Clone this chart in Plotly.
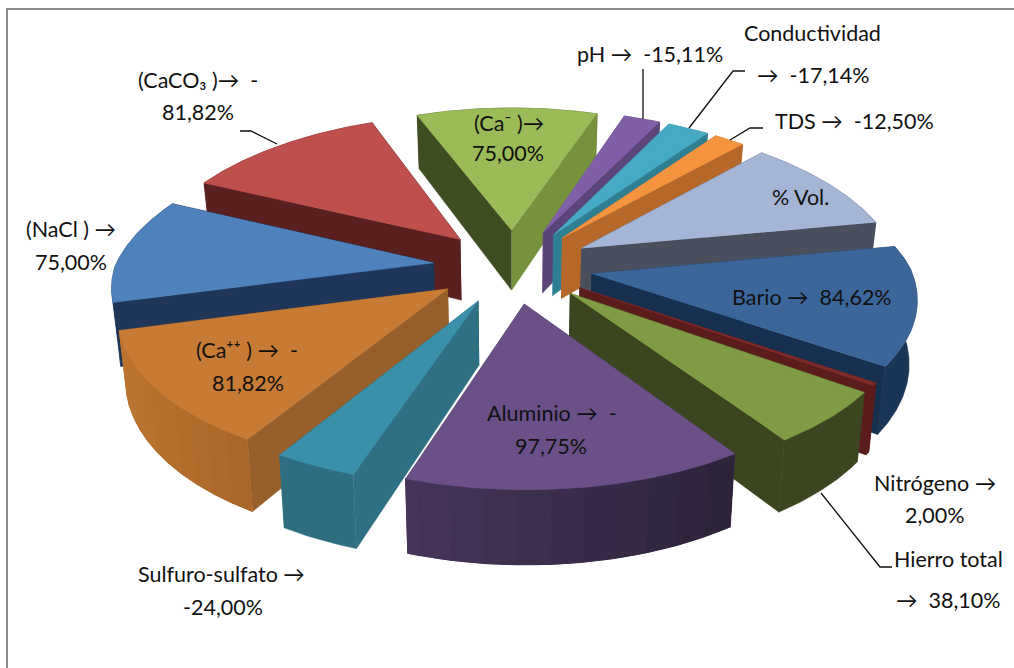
import numpy as np
import plotly.graph_objects as go

# ---- data (absolute % change; % Vol. has no printed figure, estimated) ----
NAMES = ["pH", "Conductividad", "TDS", "% Vol.", "Bario", "Nitrógeno", "Hierro total",
         "Aluminio", "Sulfuro-sulfato", "(Ca++)", "(NaCl)", "(CaCO3)", "(Ca-)"]
VALUES = [15.11, 17.14, 12.50, 68.0, 84.62, 2.00, 38.10, 97.75, 24.00, 81.82, 75.00, 81.82, 75.00]

LABEL_LINES = [["pH →  -15,11%"], ["Conductividad", "→  -17,14%"], ["TDS →  -12,50%"], ["% Vol."],
               ["Bario →  84,62%"], ["Nitrógeno →", "2,00%"], ["Hierro total", "→  38,10%"],
               ["Aluminio →  -", "97,75%"], ["Sulfuro-sulfato →", "-24,00%"], ["(Ca⁺⁺ ) →  -", "81,82%"],
               ["(NaCl ) →", "75,00%"], ["(CaCO₃ )→  -", "81,82%"], ["(Ca⁻ )→", "75,00%"]]

# ---- layout / style ----
LABEL_POS = [[(650, 54)], [(812, 33), (813, 75)], [(854, 121)], [(800, 197)],
             [(812, 297)], [(935, 483), (935, 515)], [(948, 559), (948, 600)],
             [(552, 413), (551, 446)], [(221, 574), (223, 607)], [(247, 350), (248, 383)],
             [(71, 229), (71, 262)], [(198, 80), (198, 112)], [(509, 123), (508, 153)]]

TOP = ["#7F5FA5", "#46AAC4", "#F5943F", "#A4B5D6", "#3C6699", "#7E2A28", "#7F9C45",
       "#6A5087", "#3A8FA9", "#C87B35", "#4F81BD", "#BF4F4D", "#9BBB59"]
WALL_START = ["#6F5592", "#2F7F93", "#B5682A", "#4A4F5E", "#17304F", "#5A1D1C", "#3B451F",
              "#46355A", "#2F7083", "#97602A", "#1F3659", "#5A1F1F", "#3F4E22"]
WALL_END = ["#5B4478", "#2F7F93", "#B5682A", "#4A4F5E", "#17304F", "#5A1D1C", "#3B451F",
            "#46355A", "#2F7083", "#97602A", "#1F3659", "#5A1F1F", "#76923C"]
ARC_LEFT = ["#5B4478", "#2F7F93", "#B5682A", "#4A4F5E", "#1A3556", "#5A1D1C", "#3B451F",
            "#46355A", "#2F6E80", "#BC7431", "#1F3659", "#5A1F1F", "#3F4E22"]
ARC_RIGHT = ["#5B4478", "#2F7F93", "#B5682A", "#4A4F5E", "#1A3556", "#5A1D1C", "#3B451F",
             "#2D2339", "#2F6E80", "#A86628", "#1F3659", "#5A1F1F", "#3F4E22"]

START_DEG = 19.0      # clockwise from the far side of the pie
EXPLODE = 0.25
CX, CY = 513.0, 266.0
F, G, D = 2300.0, 1071.0, 7.22
HV = 448.0
SHRINK = 0.98
BACK_NARROW = 1.3     # the far half of the pie converges faster horizontally


def project(X, Y, lower=False):
    X, Y = np.asarray(X, float), np.asarray(Y, float)
    sx = F * X / (D - np.where(Y < 0, Y * BACK_NARROW, Y))
    sy = G * Y / (D - Y)
    if lower:
        sy = sy + HV / (D - Y)
        sx = sx * SHRINK
    return CX + sx, CY + sy


def mix(c1, c2, t):
    a = [int(c1[i:i + 2], 16) for i in (1, 3, 5)]
    b = [int(c2[i:i + 2], 16) for i in (1, 3, 5)]
    return "#%02x%02x%02x" % tuple(int(round(p + (q - p) * t)) for p, q in zip(a, b))


def poly(fig, xs, ys, color, width=0.6):
    fig.add_trace(go.Scatter(x=list(xs), y=list(ys), mode="lines", fill="toself", fillcolor=color,
                             line=dict(color=color, width=width), hoverinfo="skip", showlegend=False))


fig = go.Figure()
vals = np.array(VALUES)
deg_per_unit = 360.0 / vals.sum()
starts = START_DEG + np.concatenate([[0], np.cumsum(vals)[:-1]]) * deg_per_unit
ends = starts + vals * deg_per_unit
mids = np.radians((starts + ends) / 2)
order = np.argsort(-np.cos(mids))

for i in order:
    a0, a1, am = np.radians(starts[i]), np.radians(ends[i]), mids[i]
    ax, ay = EXPLODE * np.sin(am), -EXPLODE * np.cos(am)
    n = max(int(ends[i] - starts[i]) * 2, 4)
    th = np.linspace(a0, a1, n + 1)
    ox, oy = ax + np.sin(th), ay - np.cos(th)

    tx, ty = project(ox, oy)
    lx, ly = project(ox, oy, lower=True)
    apx, apy = project([ax], [ay])
    alx, aly = project([ax], [ay], lower=True)

    # outer wall: one solid backing, then strips shaded from left to right across the slice
    wall = [(oy.mean(), list(tx) + list(lx[::-1]), list(ty) + list(ly[::-1]),
             mix(ARC_LEFT[i], ARC_RIGHT[i], 0.5), 0.6)]
    radial = [((ay + oy[0]) / 2, [apx[0], tx[0], lx[0], alx[0]], [apy[0], ty[0], ly[0], aly[0]], WALL_START[i], 0.6),
              ((ay + oy[-1]) / 2, [apx[0], tx[-1], lx[-1], alx[0]], [apy[0], ty[-1], ly[-1], aly[0]], WALL_END[i], 0.6)]
    pieces = sorted(wall + radial, key=lambda p: p[0])
    for _, xs, ys, col, w in pieces:
        poly(fig, xs, ys, col, w)
    if ARC_LEFT[i] != ARC_RIGHT[i]:
        xmin, xmax = tx.min(), tx.max()
        step = max(1, n // 10)
        for k in sorted(range(0, n, step), key=lambda k: oy[k]):
            e = min(k + step, n)
            col = mix(ARC_LEFT[i], ARC_RIGHT[i], (tx[k:e + 1].mean() - xmin) / max(xmax - xmin, 1))
            if np.cos(th[k:e + 1]).mean() < 0:
                poly(fig, list(tx[k:e + 1]) + list(lx[k:e + 1][::-1]),
                     list(ty[k:e + 1]) + list(ly[k:e + 1][::-1]), col, 1.2)
    poly(fig, [apx[0]] + list(tx), [apy[0]] + list(ty), TOP[i])

for lines, positions in zip(LABEL_LINES, LABEL_POS):
    for txt, (x, y) in zip(lines, positions):
        fig.add_annotation(x=x, y=y, text=txt, showarrow=False, xanchor="center", yanchor="middle",
                           font=dict(family="Lato, 'Noto Sans', sans-serif", size=21.5, color="#111111"))

LEADERS = [[(643, 69), (643, 119)],
           [(745, 71), (733, 71), (689, 128)],
           [(763, 128), (750, 128), (730, 140)],
           [(240, 131), (251, 131), (277, 144)],
           [(892, 567), (880, 567), (821, 493)]]
shapes = [dict(type="path", xref="x", yref="y",
               path="M " + " L ".join(f"{x},{y}" for x, y in pts),
               line=dict(color="#111111", width=1.3)) for pts in LEADERS]
# the picture is cropped: only the top and left edges of the frame are visible
shapes.append(dict(type="path", xref="x", yref="y", path="M 7,668 L 7,9 L 1014,9",
                   line=dict(color="#8C8C8C", width=2), layer="below"))

fig.update_layout(width=1014, height=668, margin=dict(l=0, r=0, t=0, b=0),
                  paper_bgcolor="white", plot_bgcolor="white", showlegend=False, shapes=shapes,
                  xaxis=dict(range=[0, 1014], visible=False, fixedrange=True),
                  yaxis=dict(range=[668, 0], visible=False, fixedrange=True))

fig.write_html("out.html", config=dict(displayModeBar=False),
               post_script="document.body.style.margin='0';document.body.style.overflow='hidden';window.dispatchEvent(new Event('resize'));")
